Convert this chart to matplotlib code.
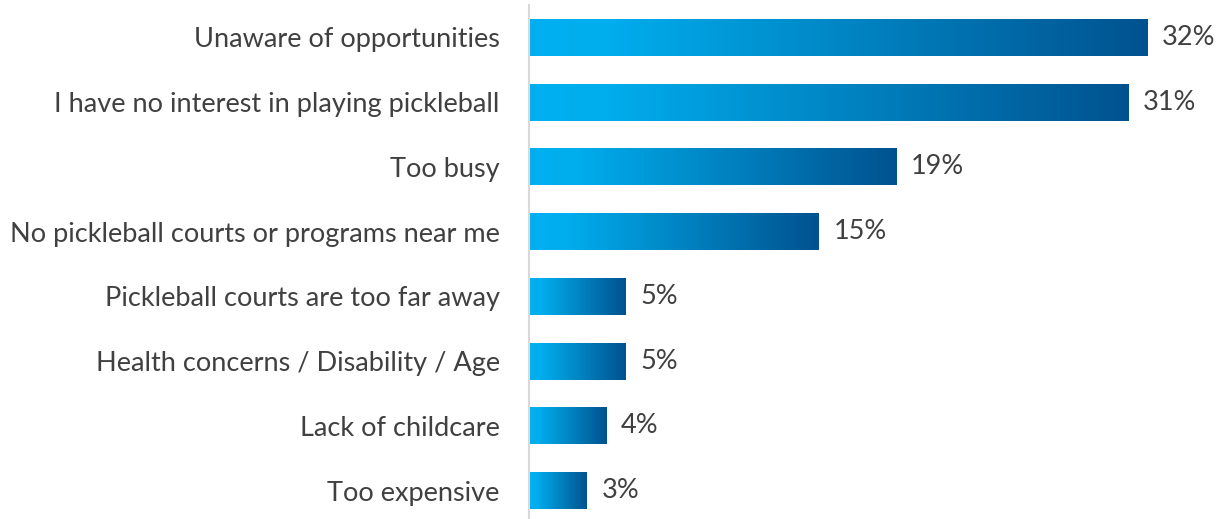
import matplotlib.pyplot as plt
import numpy as np
from matplotlib.colors import LinearSegmentedColormap

# Reasons for not playing pickleball (share of respondents, %)
reasons = [
    "Unaware of opportunities",
    "I have no interest in playing pickleball",
    "Too busy",
    "No pickleball courts or programs near me",
    "Pickleball courts are too far away",
    "Health concerns / Disability / Age",
    "Lack of childcare",
    "Too expensive",
]
shares = [32, 31, 19, 15, 5, 5, 4, 3]

_text_color = "#404040"
_grad = LinearSegmentedColormap.from_list(
    "bar_grad", [(0.0, "#00B0F0"), (0.12, "#00AEEE"), (1.0, "#00528F")]
)

plt.rcParams["font.family"] = ["Lato", "DejaVu Sans"]

fig = plt.figure(figsize=(12.25, 5.19), dpi=100)
ax = fig.add_axes([529 / 1225, -4 / 519, 1 - 529 / 1225, 518 / 519])

y = np.arange(len(reasons))
bar_h = 0.57
bars = ax.barh(y, shares, height=bar_h, color="none")

# Fill each bar with a left-to-right gradient
gradient = np.linspace(0, 1, 256).reshape(1, -1)
for bar, value in zip(bars, shares):
    x0, y0 = bar.get_x(), bar.get_y()
    w, h = bar.get_width(), bar.get_height()
    ax.imshow(gradient, cmap=_grad, aspect="auto",
              extent=(x0, x0 + w, y0 + h, y0), zorder=2)
    ax.text(x0 + w + 0.75, y0 + h / 2, f"{value}%", va="center", ha="left",
            fontsize=19.5, color=_text_color)

ax.set_xlim(0, 36.0)
ax.set_ylim(len(reasons) - 0.5, -0.5)
ax.set_xticks([])
ax.set_yticks(y)
ax.set_yticklabels(reasons, fontsize=19.5, color=_text_color)
ax.tick_params(axis="y", length=0, pad=21)

for side in ["top", "right", "bottom"]:
    ax.spines[side].set_visible(False)
ax.spines["left"].set_color("#D9D9D9")
ax.spines["left"].set_linewidth(1.5)

fig.savefig("out.png", dpi=100)
